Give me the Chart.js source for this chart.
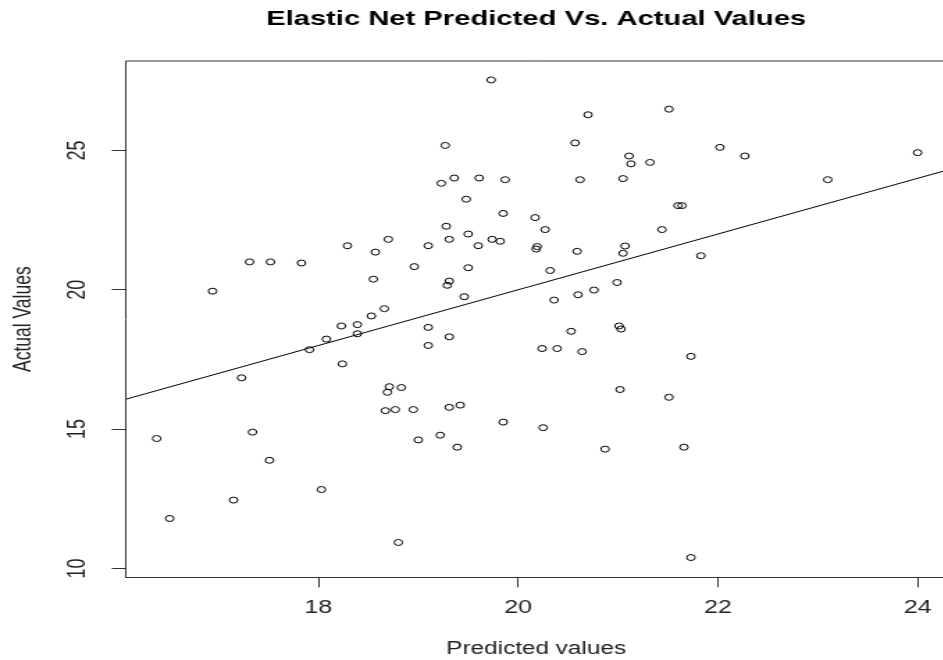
<!DOCTYPE html>
<html>
<head>
<meta charset="utf-8">
<script src="https://cdn.jsdelivr.net/npm/chart.js@4.4.1/dist/chart.umd.min.js"></script>
<style>
  html, body { margin: 0; padding: 0; background: #fff; overflow: hidden; width: 943px; height: 660px; }
  /* the reference is an R plot stretched sideways, so the canvas is drawn narrow and scaled */
  #wrap { width: 686px; height: 660px; transform: scaleX(1.39); transform-origin: 0 0; }
</style>
</head>
<body>
<div id="wrap"><canvas id="chart" width="686" height="660"></canvas></div>
<script>
const predicted = [
  19.73, 19.27, 19.23, 19.36, 19.61, 19.87, 19.48, 19.85, 19.28, 19.50,
  19.31, 19.74, 19.82, 19.60, 19.10, 18.70, 18.29, 18.57, 17.31, 17.52,
  17.83, 18.96, 19.50, 18.55, 19.31, 19.29, 16.94, 19.46, 18.66, 18.53,
  20.70, 21.51, 20.57, 22.02, 22.27, 24.00, 21.11, 21.13, 21.32, 20.62,
  21.05, 23.10, 21.60, 21.64, 20.17, 21.44, 20.27, 20.18, 20.19, 20.59,
  21.07, 21.05, 21.83, 20.32, 20.99, 20.76, 20.60, 20.36,
  18.23, 18.39, 18.39, 18.08, 17.91, 18.24, 19.10, 19.31, 19.10, 17.23,
  18.71, 18.69, 18.83, 18.67, 18.77, 18.95, 19.31, 19.42, 19.85, 16.38,
  17.34, 19.00, 19.22, 19.39, 17.51, 18.03, 17.15, 16.51, 18.80,
  20.53, 21.01, 21.03, 20.24, 20.39, 20.64, 21.73, 21.02, 21.51, 20.25,
  20.87, 21.66, 21.73
];
const actual = [
  27.53, 25.18, 23.82, 24.01, 24.01, 23.95, 23.25, 22.74, 22.28, 22.00,
  21.81, 21.81, 21.74, 21.58, 21.58, 21.81, 21.58, 21.35, 21.00, 21.00,
  20.96, 20.83, 20.79, 20.38, 20.31, 20.16, 19.95, 19.75, 19.32, 19.06,
  26.28, 26.48, 25.27, 25.11, 24.80, 24.92, 24.80, 24.52, 24.57, 23.95,
  23.99, 23.95, 23.02, 23.02, 22.59, 22.16, 22.16, 21.46, 21.55, 21.38,
  21.57, 21.31, 21.22, 20.69, 20.26, 19.99, 19.82, 19.63,
  18.70, 18.75, 18.42, 18.23, 17.85, 17.34, 18.65, 18.31, 18.00, 16.84,
  16.52, 16.32, 16.49, 15.66, 15.70, 15.70, 15.78, 15.86, 15.25, 14.66,
  14.89, 14.61, 14.78, 14.35, 13.88, 12.83, 12.45, 11.79, 10.93,
  18.51, 18.70, 18.59, 17.89, 17.89, 17.78, 17.61, 16.42, 16.14, 15.05,
  14.28, 14.35, 10.39
];
const xTicks = [18, 20, 22, 24];
const yTicks = [10, 15, 20, 25];
const xRange = [16.07, 24.29];
const yRange = [9.68, 28.21];

const FONT = '"Liberation Sans", Arial, sans-serif';
Chart.defaults.font.family = FONT;

const points = predicted.map((p, i) => ({ x: p, y: actual[i] }));
// y = x reference line
const diag = [{ x: xRange[0], y: xRange[0] }, { x: xRange[1], y: xRange[1] }];

// R draws the y tick labels turned sideways; Chart.js won't rotate them on a vertical axis
const yLabels = {
  id: 'yLabels',
  afterDraw(chart) {
    const ctx = chart.ctx, s = chart.scales.y;
    ctx.save();
    ctx.fillStyle = '#222';
    ctx.font = '18px ' + FONT;
    ctx.textAlign = 'center';
    ctx.textBaseline = 'middle';
    yTicks.forEach(v => {
      ctx.save();
      ctx.translate(s.right - 34.3, s.getPixelForValue(v));
      ctx.rotate(-Math.PI / 2);
      ctx.fillText(String(v), 0, 0);
      ctx.restore();
    });
    ctx.restore();
  }
};

const boxTop = {
  id: 'boxTop',
  afterDraw(chart) {
    const ctx = chart.ctx, a = chart.chartArea;
    ctx.save();
    ctx.strokeStyle = '#333';
    ctx.lineWidth = 1;
    ctx.beginPath();
    ctx.moveTo(a.left, a.top);
    ctx.lineTo(a.right, a.top);
    ctx.lineTo(a.right, a.bottom);
    ctx.stroke();
    ctx.restore();
  }
};

new Chart(document.getElementById('chart'), {
  type: 'scatter',
  data: {
    datasets: [{
      label: 'values',
      data: points,
      pointRadius: 3,
      pointBorderWidth: 1,
      pointBorderColor: '#000',
      pointBackgroundColor: 'rgba(0,0,0,0)',
      showLine: false
    }, {
      type: 'line',
      label: 'fit',
      data: diag,
      borderColor: '#000',
      borderWidth: 1,
      pointRadius: 0,
      fill: false
    }]
  },
  options: {
    responsive: false,
    animation: false,
    devicePixelRatio: 1,
    layout: { padding: 0 },
    plugins: {
      legend: { display: false },
      tooltip: { enabled: false },
      title: {
        display: true,
        text: 'Elastic Net Predicted Vs. Actual Values',
        fullSize: false,
        color: '#000',
        font: { size: 21, weight: 'bold' },
        padding: { top: 6.6, bottom: 29.2 }
      }
    },
    scales: {
      x: {
        type: 'linear',
        position: 'bottom',
        min: xRange[0],
        max: xRange[1],
        afterBuildTicks: s => { s.ticks = xTicks.map(v => ({ value: v })); },
        afterFit: s => { s.height = 82.7; },
        grid: { drawOnChartArea: false, drawTicks: true, tickLength: 10, tickColor: '#333', tickWidth: 1 },
        border: { display: true, color: '#333', width: 1 },
        ticks: { color: '#222', font: { size: 18 }, padding: 10, maxRotation: 0, autoSkip: false },
        title: { display: true, text: 'Predicted values', color: '#222', font: { size: 17.5 }, padding: { top: 0, bottom: 0 } }
      },
      y: {
        type: 'linear',
        min: yRange[0],
        max: yRange[1],
        afterBuildTicks: s => { s.ticks = yTicks.map(v => ({ value: v })); },
        afterFit: s => { s.width = 90.43; },
        grid: { drawOnChartArea: false, drawTicks: true, tickLength: 10, tickColor: '#333', tickWidth: 1 },
        border: { display: true, color: '#333', width: 1 },
        ticks: { display: false },
        title: { display: true, text: 'Actual Values', color: '#222', font: { size: 17.5 }, padding: { top: 6.8, bottom: 0 } }
      }
    }
  },
  plugins: [yLabels, boxTop]
});
</script>
</body>
</html>
